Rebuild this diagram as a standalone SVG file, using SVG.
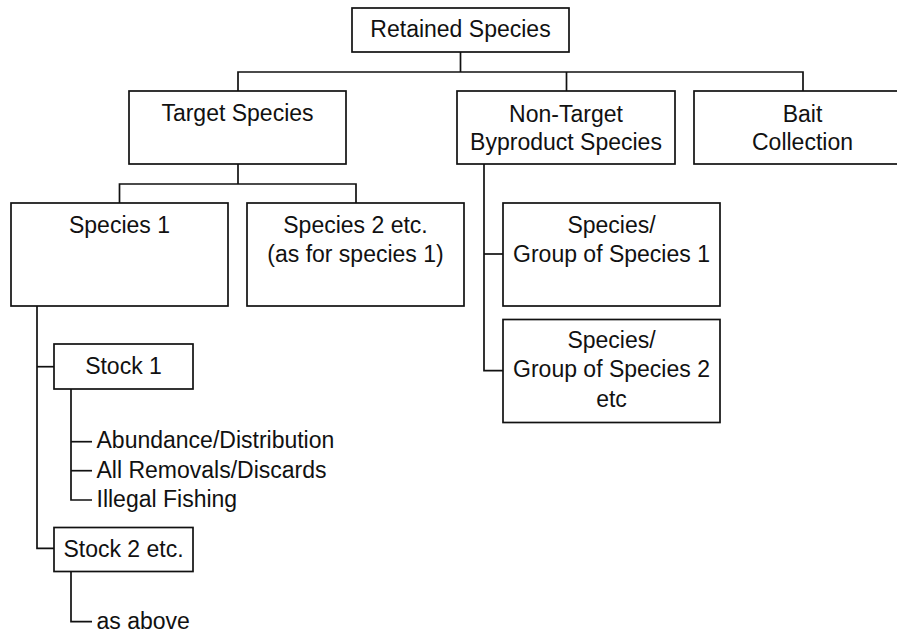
<svg xmlns="http://www.w3.org/2000/svg" width="897" height="633" viewBox="0 0 897 633">
<style>
  .box { fill: #ffffff; stroke: #111111; stroke-width: 1.7; }
  .lbl { font-family: "Liberation Sans", Arial, sans-serif; font-size: 23px; fill: #111111; text-anchor: middle; }
  .leaf { font-family: "Liberation Sans", Arial, sans-serif; font-size: 23px; fill: #111111; text-anchor: start; }
  .conn { fill: none; stroke: #111111; stroke-width: 1.7; }
</style>
<rect width="897" height="633" fill="#ffffff"/>
<g id="connectors">
  <path class="conn" d="M460.5 52 V72"/>
  <path class="conn" d="M238 91 V72 H803 V91"/>
  <path class="conn" d="M566.5 72 V91"/>
  <path class="conn" d="M238 164 V184"/>
  <path class="conn" d="M119.5 203 V184 H356 V203"/>
  <path class="conn" d="M484 164 V370.7 H503"/>
  <path class="conn" d="M484 254 H503"/>
  <path class="conn" d="M37 306 V548.3 H54"/>
  <path class="conn" d="M37 366.7 H54"/>
  <path class="conn" d="M71 389 V500 H92"/>
  <path class="conn" d="M71 441.7 H92"/>
  <path class="conn" d="M71 470.7 H92"/>
  <path class="conn" d="M71 571.7 V621.7 H92"/>
</g>
<g id="retained">
  <rect class="box" x="352" y="8" width="217" height="44"/>
  <text class="lbl" x="460.5" y="37.3">Retained Species</text>
</g>
<g id="target">
  <rect class="box" x="129" y="91" width="217" height="73"/>
  <text class="lbl" x="237.5" y="121">Target Species</text>
</g>
<g id="nontarget">
  <rect class="box" x="457" y="91" width="218" height="73"/>
  <text class="lbl" x="566" y="121.7">Non-Target</text>
  <text class="lbl" x="566" y="149.5">Byproduct Species</text>
</g>
<g id="bait">
  <rect class="box" x="694" y="91" width="217" height="73"/>
  <text class="lbl" x="802.5" y="121.7">Bait</text>
  <text class="lbl" x="802.5" y="150">Collection</text>
</g>
<g id="species1">
  <rect class="box" x="11" y="203" width="217" height="103"/>
  <text class="lbl" x="119.5" y="233.3">Species 1</text>
</g>
<g id="species2">
  <rect class="box" x="247" y="203" width="217" height="103"/>
  <text class="lbl" x="355.5" y="233.3">Species 2 etc.</text>
  <text class="lbl" x="355.5" y="261.7">(as for species 1)</text>
</g>
<g id="group1">
  <rect class="box" x="503" y="203" width="217" height="103"/>
  <text class="lbl" x="611.5" y="232.5">Species/</text>
  <text class="lbl" x="611.5" y="261.5">Group of Species 1</text>
</g>
<g id="group2">
  <rect class="box" x="503" y="319.5" width="217" height="103"/>
  <text class="lbl" x="611.5" y="347.7">Species/</text>
  <text class="lbl" x="611.5" y="376.7">Group of Species 2</text>
  <text class="lbl" x="611.5" y="406.5">etc</text>
</g>
<g id="stock1">
  <rect class="box" x="54" y="344" width="139" height="45"/>
  <text class="lbl" x="123.5" y="374">Stock 1</text>
</g>
<g id="stock1-items">
  <text class="leaf" x="96.5" y="448.3">Abundance/Distribution</text>
  <text class="leaf" x="96.5" y="477.5">All Removals/Discards</text>
  <text class="leaf" x="96.5" y="506.5">Illegal Fishing</text>
</g>
<g id="stock2">
  <rect class="box" x="54" y="527.5" width="139" height="44"/>
  <text class="lbl" x="123.5" y="556.7">Stock 2 etc.</text>
</g>
<g id="stock2-items">
  <text class="leaf" x="96.5" y="628.5">as above</text>
</g>
</svg>
